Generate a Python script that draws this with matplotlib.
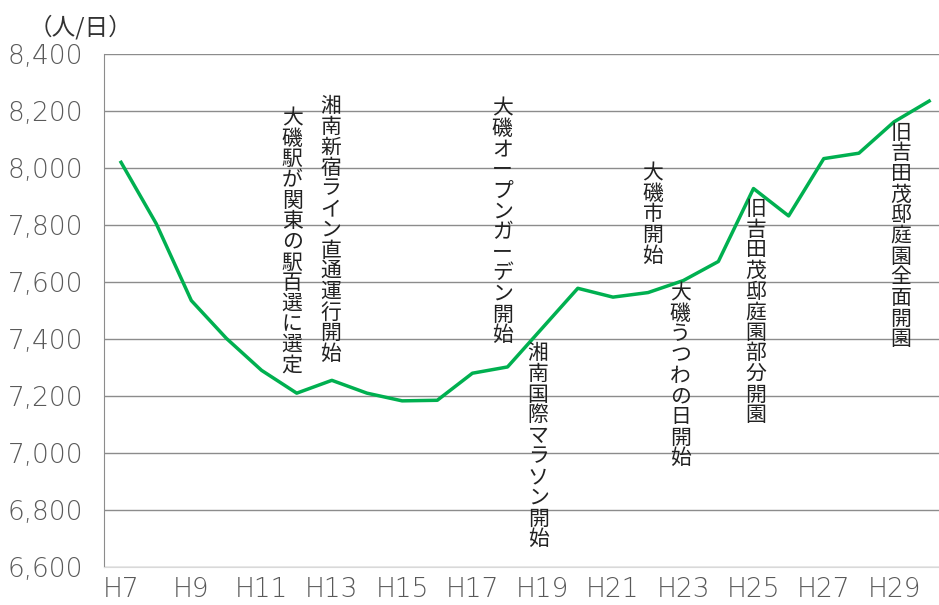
import matplotlib.pyplot as plt

plt.rcParams['font.family'] = ['Noto Sans CJK JP', 'DejaVu Sans']

# Visitors per day, H7 - H30
years = ['H7', 'H8', 'H9', 'H10', 'H11', 'H12', 'H13', 'H14', 'H15', 'H16', 'H17', 'H18',
         'H19', 'H20', 'H21', 'H22', 'H23', 'H24', 'H25', 'H26', 'H27', 'H28', 'H29', 'H30']
visitors = [8020, 7805, 7535, 7402, 7290, 7210, 7255, 7210, 7183, 7185, 7280, 7302,
            7440, 7578, 7547, 7563, 7605, 7672, 7928, 7832, 8033, 8052, 8162, 8235]

# Events: label, x position (index), top of text (value)
events = ['大磯駅が関東の駅百選に選定', '湘南新宿ライン直通運行開始', '大磯オープンガーデン開始',
          '湘南国際マラソン開始', '大磯市開始', '大磯うつわの日開始',
          '旧吉田茂邸庭園部分開園', '旧吉田茂邸庭園全面開園']
event_x = [4.87, 5.97, 10.85, 11.87, 15.14, 15.92, 18.07, 22.2]
event_top = [8214, 8256, 8249, 7388, 8021, 7600, 7895, 8162]

fig = plt.figure(figsize=(9.39, 6.05), dpi=100)
ax = fig.add_axes([0.1108, 0.0628, 0.8892, 0.8479])

x = list(range(len(years)))
ax.plot(x, visitors, color='#00B050', linewidth=2.5, zorder=3)

ax.set_ylim(6600, 8400)
ax.set_xlim(-0.484, 23.28)
ax.set_yticks(range(6600, 8401, 200))
ax.set_yticklabels([f'{v:,}' for v in range(6600, 8401, 200)])
ax.set_xticks(x[::2])
ax.set_xticklabels(years[::2])
ax.tick_params(axis='both', length=0, labelcolor='#595959')
ax.tick_params(axis='y', pad=15)
ax.tick_params(axis='x', pad=7)
for lab in ax.get_xticklabels() + ax.get_yticklabels():
    lab.set_family('DejaVu Sans')
    lab.set_fontweight('light')
    lab.set_fontsize(19)

ax.grid(axis='y', color='#8c8c8c', linewidth=1)
ax.set_axisbelow(True)
for s in ['top', 'right']:
    ax.spines[s].set_visible(False)
ax.spines['left'].set_color('#8c8c8c')
ax.spines['bottom'].set_color('#d9d9d9')

for label, ex, ey in zip(events, event_x, event_top):
    ax.text(ex, ey, '\n'.join(label), ha='center', va='top', fontsize=15,
            linespacing=0.92, color='#222222', zorder=4)

fig.text(0.03, 0.975, '（人/日）', fontsize=17, color='#333333', va='top', ha='left')

fig.savefig('out.png', dpi=100)
